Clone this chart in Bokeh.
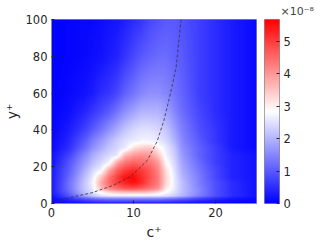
import numpy as np
from bokeh.plotting import figure
from bokeh.models import LinearColorMapper, FixedTicker, Range1d
from bokeh.layouts import row
from bokeh.embed import file_html
from bokeh.resources import INLINE

# ---- data (field values in units of 1e-8) ----
c_grid = [0, 2, 4, 5, 6, 7, 8, 9, 10, 11, 12, 13, 14, 15, 16, 18, 20, 22, 25]
y_grid = [0, 2, 4, 6, 8, 11, 14, 18, 22, 26, 30, 34, 40, 50, 60, 80, 100]
field = [
    [0.05, 0.1, 0.2, 0.25, 0.3, 0.3, 0.3, 0.3, 0.3, 0.3, 0.3, 0.3, 0.3, 0.25, 0.2, 0.15, 0.1, 0.05, 0.02],
    [0.1, 0.4, 0.8, 1.0, 1.1, 1.2, 1.2, 1.2, 1.2, 1.2, 1.2, 1.2, 1.1, 1.0, 0.9, 0.6, 0.4, 0.2, 0.1],
    [0.2, 0.9, 1.8, 2.2, 2.5, 2.6, 2.6, 2.6, 2.6, 2.6, 2.6, 2.6, 2.5, 2.3, 2.0, 1.4, 0.9, 0.5, 0.2],
    [0.3, 1.1, 2.1, 2.5, 2.9, 3.3, 3.5, 3.6, 3.6, 3.6, 3.5, 3.2, 2.8, 2.5, 2.1, 1.5, 0.9, 0.5, 0.2],
    [0.3, 1.2, 2.2, 2.6, 3.6, 4.2, 4.5, 4.7, 4.8, 4.6, 4.4, 4.1, 3.1, 2.6, 2.1, 1.5, 0.9, 0.5, 0.2],
    [0.3, 1.2, 2.2, 2.7, 3.8, 4.5, 5.0, 5.3, 5.5, 5.2, 4.7, 4.3, 3.3, 2.6, 2.1, 1.4, 0.9, 0.5, 0.2],
    [0.3, 1.1, 2.1, 2.6, 3.5, 4.4, 5.0, 5.5, 5.6, 5.2, 4.8, 4.3, 3.3, 2.6, 2.0, 1.4, 0.8, 0.4, 0.2],
    [0.3, 1.0, 1.9, 2.4, 2.7, 3.8, 4.6, 5.0, 5.2, 5.0, 4.7, 4.2, 3.2, 2.5, 1.9, 1.3, 0.8, 0.4, 0.2],
    [0.2, 0.9, 1.7, 2.1, 2.4, 2.7, 3.9, 4.4, 4.6, 4.5, 4.4, 4.0, 2.9, 2.4, 1.8, 1.2, 0.7, 0.4, 0.2],
    [0.2, 0.7, 1.5, 1.9, 2.2, 2.4, 2.6, 3.7, 4.0, 4.1, 4.0, 3.5, 2.7, 2.3, 1.7, 1.1, 0.7, 0.4, 0.2],
    [0.1, 0.5, 1.2, 1.6, 1.9, 2.2, 2.4, 2.6, 3.2, 3.4, 3.5, 3.0, 2.6, 2.2, 1.6, 1.1, 0.7, 0.3, 0.1],
    [0.1, 0.4, 1.0, 1.4, 1.7, 2.0, 2.3, 2.5, 2.6, 2.7, 2.7, 2.6, 2.4, 2.0, 1.5, 1.0, 0.6, 0.3, 0.1],
    [0.05, 0.3, 0.7, 1.0, 1.3, 1.6, 1.9, 2.2, 2.4, 2.5, 2.5, 2.4, 2.2, 1.8, 1.4, 0.9, 0.6, 0.3, 0.1],
    [0.05, 0.15, 0.4, 0.6, 0.8, 1.0, 1.3, 1.6, 1.8, 2.0, 2.0, 2.0, 1.8, 1.5, 1.2, 0.8, 0.5, 0.3, 0.1],
    [0.02, 0.1, 0.2, 0.3, 0.5, 0.6, 0.8, 1.1, 1.3, 1.5, 1.6, 1.6, 1.5, 1.3, 1.1, 0.7, 0.5, 0.3, 0.1],
    [0.02, 0.05, 0.1, 0.15, 0.2, 0.3, 0.4, 0.6, 0.8, 1.0, 1.1, 1.2, 1.2, 1.1, 1.0, 0.7, 0.5, 0.3, 0.1],
    [0.02, 0.05, 0.1, 0.1, 0.15, 0.2, 0.25, 0.35, 0.5, 0.6, 0.8, 0.9, 1.0, 1.0, 0.9, 0.7, 0.5, 0.3, 0.1],
]
cbar_max = 5.68
cbar_label = "×10⁻⁸"

# dashed curve
curve_c = [0, 2.4, 4.9, 7.5, 9.7, 11.7, 12.9, 13.7, 14.5, 15.2, 15.8]
curve_y = [0, 3.4, 5.8, 9.8, 14.8, 23.5, 34, 45, 59.6, 74, 100]

x_ticks = [0, 10, 20]
y_ticks = [0, 20, 40, 60, 80, 100]
cbar_ticks = [0, 1, 2, 3, 4, 5]
x_label = "c⁺"
y_label = "y⁺"

# ---- smooth display (interpolated shading of the grid) ----
cg = np.array(c_grid, float)
yg = np.array(y_grid, float)
Z = np.array(field, float)
cf = np.linspace(0, 25, 300)
yf = np.linspace(0, 100, 300)
A = np.array([np.interp(cf, cg, r) for r in Z])
B = np.array([np.interp(yf, yg, A[:, j]) for j in range(A.shape[1])]).T

palette = []
for i in range(256):
    t = i / 255
    if t <= 0.5:
        v = int(round(255 * t / 0.5))
        palette.append("#%02x%02x%02x" % (v, v, 255))
    else:
        v = int(round(255 * (1 - (t - 0.5) / 0.5)))
        palette.append("#%02x%02x%02x" % (255, v, v))

mapper = LinearColorMapper(palette=palette, low=0, high=cbar_max)

FONT = "DejaVu Sans"
TXT = "#262626"
EDGE = "#8c8c8c"


def style_axis(ax):
    ax.major_tick_in = 3
    ax.major_tick_out = 0
    ax.minor_tick_line_color = None
    ax.axis_line_color = EDGE
    ax.major_tick_line_color = TXT
    ax.major_label_text_font = FONT
    ax.major_label_text_font_size = "11.5px"
    ax.major_label_text_color = TXT
    ax.major_label_standoff = 4
    ax.axis_label_text_font = FONT
    ax.axis_label_text_font_size = "14px"
    ax.axis_label_text_font_style = "normal"
    ax.axis_label_text_color = TXT


# main heat map
p = figure(width=257, height=243, x_range=Range1d(0, 25), y_range=Range1d(0, 100),
           output_backend="svg", toolbar_location=None,
           min_border_left=50, min_border_top=19, min_border_bottom=40, min_border_right=1)
p.image(image=[B], x=0, y=0, dw=25, dh=100, color_mapper=mapper)
p.line(curve_c, curve_y, line_color="#333333", line_width=0.8, line_dash="3 2")
p.grid.visible = False
p.outline_line_color = EDGE
p.outline_line_width = 1
style_axis(p.xaxis[0])
style_axis(p.yaxis[0])
p.xaxis.ticker = FixedTicker(ticks=x_ticks)
p.yaxis.ticker = FixedTicker(ticks=y_ticks)
p.xaxis.axis_label = x_label
p.yaxis.axis_label = y_label
p.xaxis.axis_label_standoff = 4
p.yaxis.axis_label_standoff = 3

# colour bar as its own small figure
grad = np.linspace(0, cbar_max, 256).reshape(-1, 1)
pc = figure(width=67, height=243, x_range=Range1d(0, 1), y_range=Range1d(0, cbar_max),
            output_backend="svg", toolbar_location=None,
            x_axis_location=None, y_axis_location="right",
            title=cbar_label,
            min_border_left=7, min_border_top=19, min_border_bottom=40, min_border_right=45)
pc.image(image=[grad], x=0, y=0, dw=1, dh=cbar_max, color_mapper=mapper)
pc.grid.visible = False
pc.outline_line_color = EDGE
style_axis(pc.yaxis[0])
pc.yaxis.ticker = FixedTicker(ticks=cbar_ticks)
pc.yaxis.axis_line_color = None
pc.title.text_font = FONT
pc.title.text_font_size = "11px"
pc.title.text_font_style = "normal"
pc.title.text_color = "#444444"
pc.title.align = "left"
pc.title.offset = 16
pc.title.standoff = 3

layout = row(p, pc)
open("out.html", "w").write(file_html(layout, INLINE))
